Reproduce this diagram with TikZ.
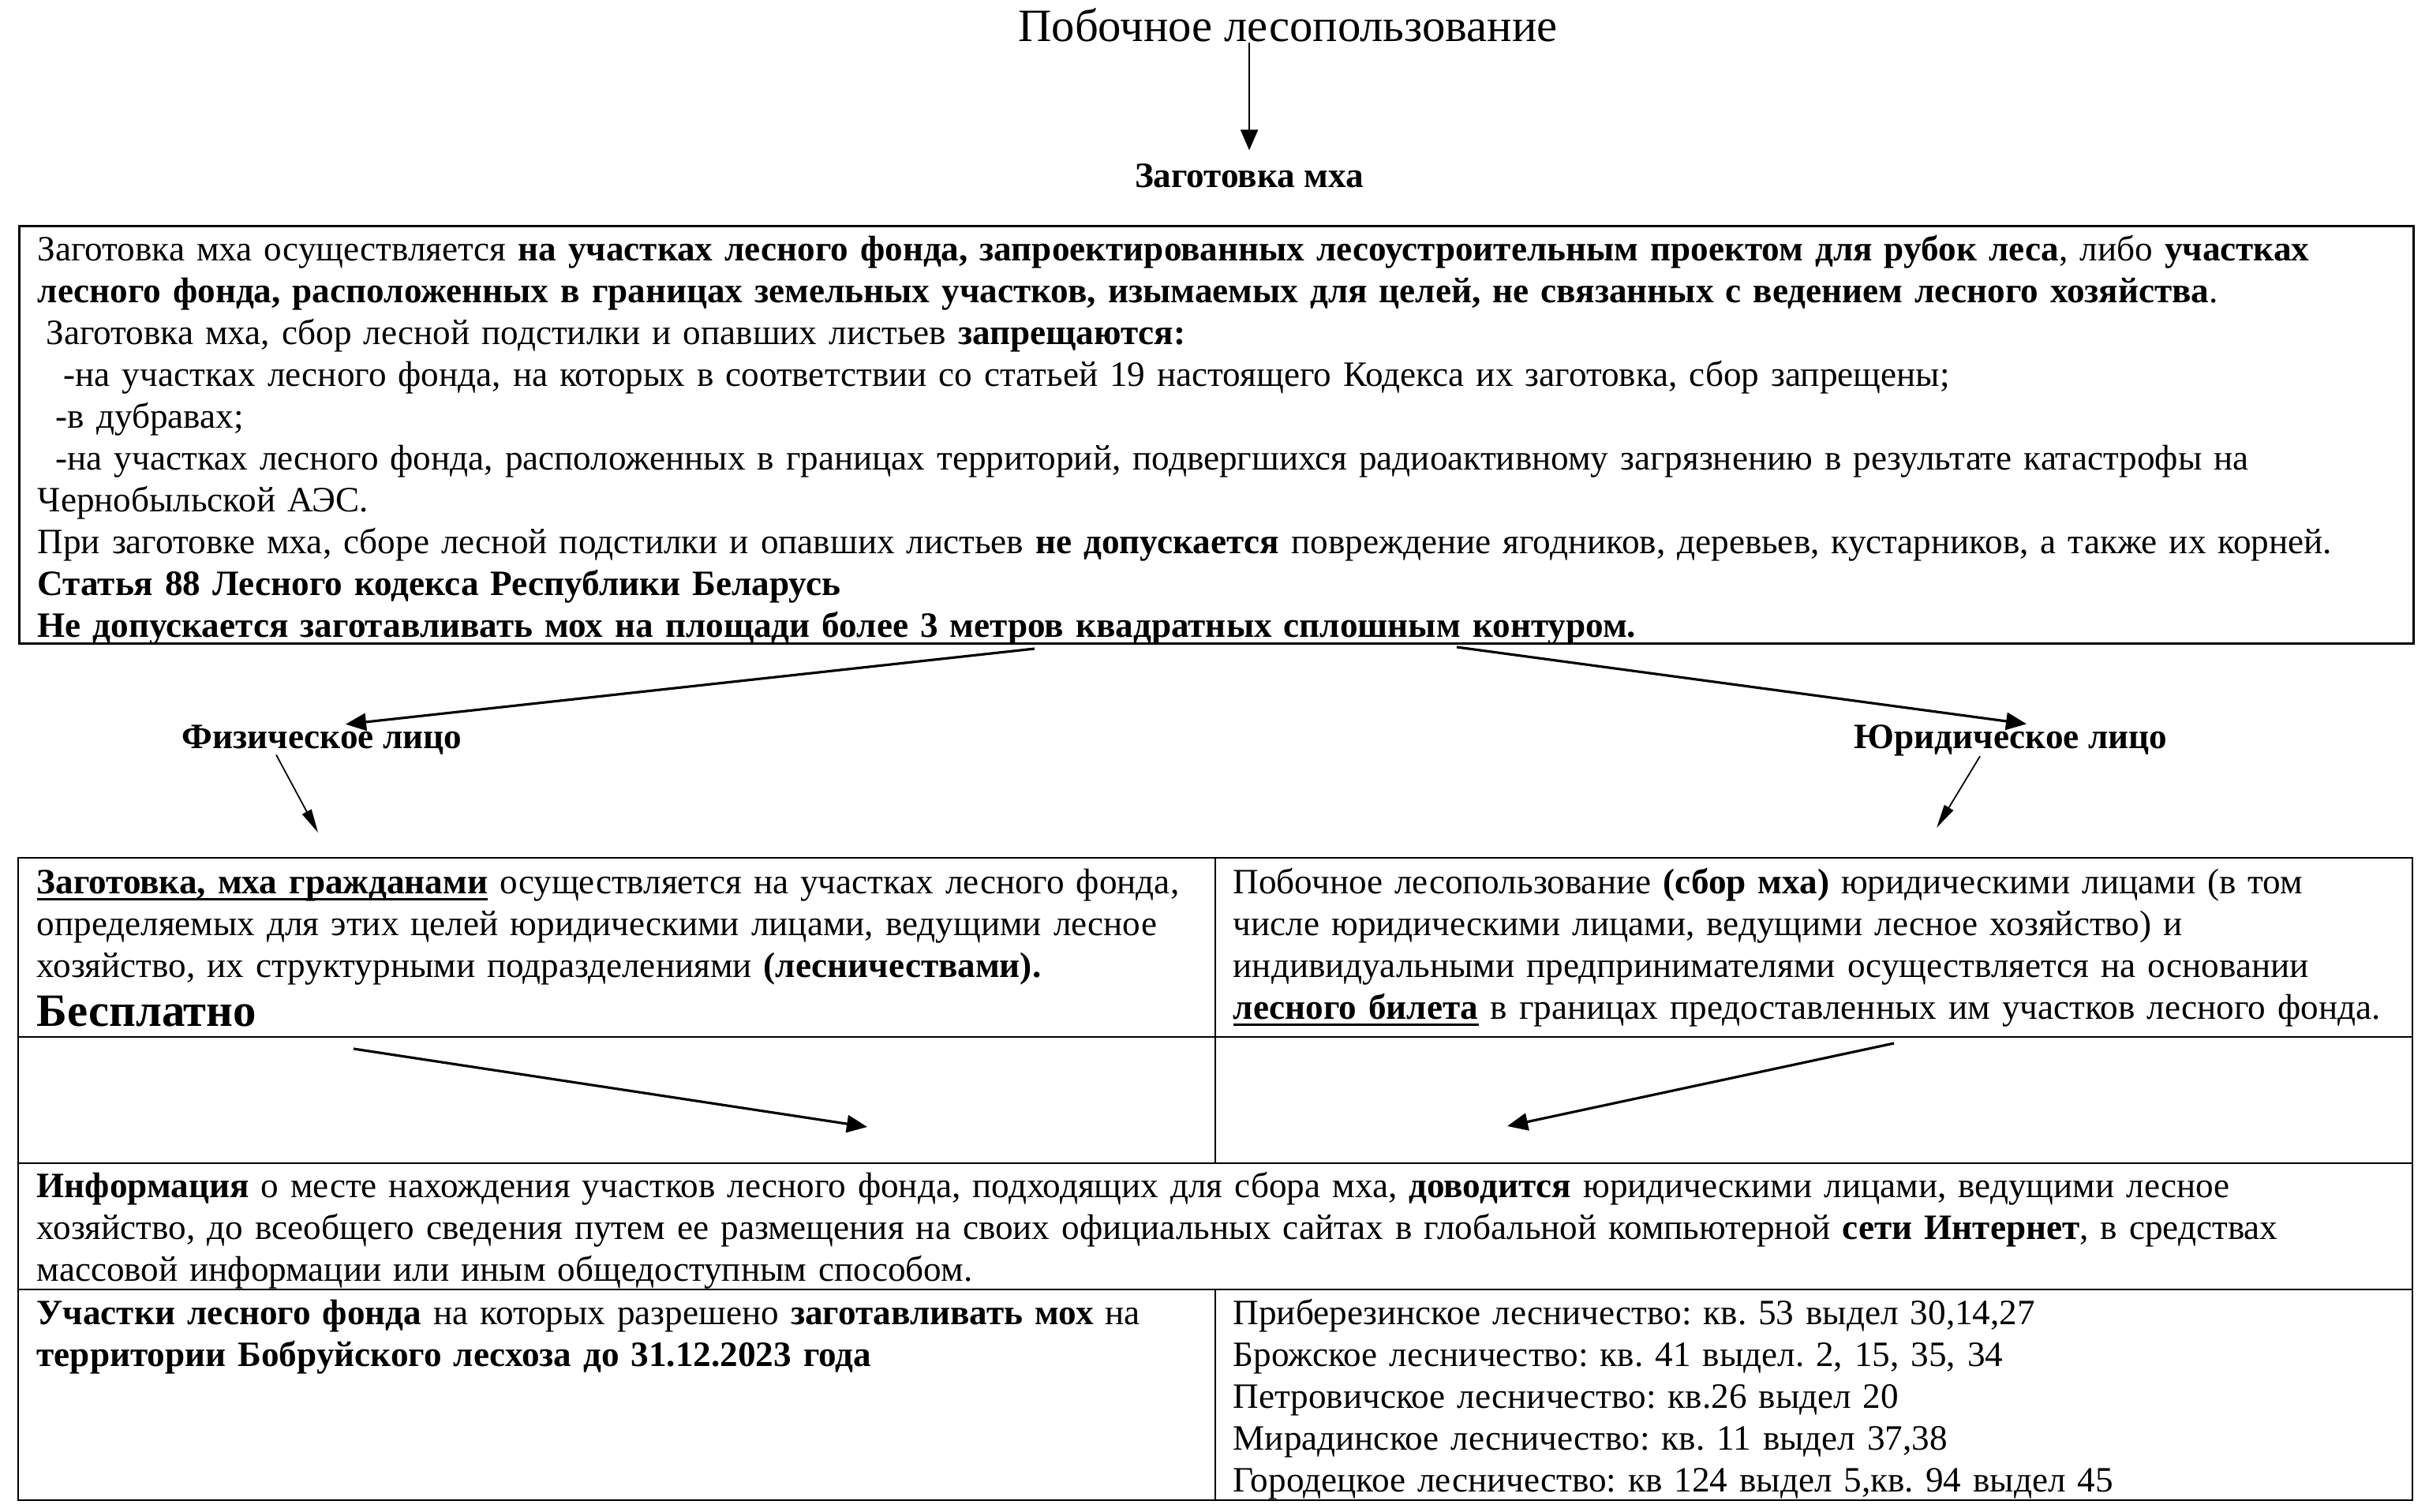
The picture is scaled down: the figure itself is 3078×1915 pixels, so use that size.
\documentclass[tikz,border=0pt]{standalone}
\usepackage{fontspec}
\setmainfont{Liberation Serif}
\usepackage{tikz}
\usetikzlibrary{arrows.meta,calc,positioning}
\frenchspacing
\newcommand{\bodyfont}{\fontsize{12.85pt}{15.08pt}\selectfont}
\newcommand{\headfont}{\fontsize{16.7pt}{19pt}\selectfont}
\newcommand{\freefont}{\fontsize{16.7pt}{20pt}\selectfont}
\newsavebox{\ulbox}
\newcommand{\thickul}[1]{\leavevmode\sbox{\ulbox}{#1}\rlap{\rule[-0.9mm]{\wd\ulbox}{0.35mm}}\usebox{\ulbox}}
\tikzset{
  txt/.style     = {anchor=base west, inner sep=0pt, align=left, text width=30cm, font=\bodyfont},
  lbl/.style     = {inner sep=0pt, anchor=base, font=\bodyfont\bfseries},
  frame/.style   = {draw, line width=0.8pt, inner sep=0pt, anchor=north west},
  rule/.style    = {line width=0.8pt},
  vec/.style     = {-{Triangle[length=2.6mm,width=2.2mm]}, line width=0.9pt},
  thinvec/.style = {-{Triangle[length=3mm,width=1.3mm]}, line width=0.5pt},
}

\begin{document}
\begin{tikzpicture}[x=0.1mm,y=-0.1mm]
  \useasboundingbox (0,0) rectangle (3078,1915);
  \node[inner sep=0pt, anchor=base, font=\headfont] (title) at (1632,53) {Побочное лесопользование};
  \node[lbl] (moss) at (1583,237) {Заготовка мха};
  \draw[vec, line width=0.6pt, shorten >=1.6mm] (title.south -| moss) -- (moss.north);

  \node[frame, minimum width=303.4mm, minimum height=52.9mm] (rules) at (23,285) {};
  \node[txt] (rulestext) at (47,330) {Заготовка мха осуществляется \textbf{на участках лесного фонда, запроектированных лесоустроительным проектом для рубок леса}, либо \textbf{участках}\\
    \textbf{лесного фонда, расположенных в границах земельных участков, изымаемых для целей, не связанных с ведением лесного хозяйства}.\\
    \hspace*{1.1mm}Заготовка мха, сбор лесной подстилки и опавших листьев \textbf{запрещаются:}\\
    \hspace*{3.3mm}-на участках лесного фонда, на которых в соответствии со статьей 19 настоящего Кодекса их заготовка, сбор запрещены;\\
    \hspace*{2.3mm}-в дубравах;\\
    \hspace*{2.3mm}-на участках лесного фонда, расположенных в границах территорий, подвергшихся радиоактивному загрязнению в результате катастрофы на\\
    Чернобыльской АЭС.\\
    При заготовке мха, сборе лесной подстилки и опавших листьев \textbf{не допускается} повреждение ягодников, деревьев, кустарников, а также их корней.\\
    \textbf{Статья 88 Лесного кодекса Республики Беларусь}\\
    \textbf{Не допускается заготавливать мох на площади более 3 метров квадратных сплошным контуром.}};

  \node[lbl] (fiz) at (408,948) {Физическое лицо};
  \node[lbl] (jur) at (2548,948) {Юридическое лицо};
  \coordinate (splitL) at (1311,822);
  \coordinate (splitR) at (1846,820);
  \coordinate (fizcell) at (403,1055);
  \coordinate (jurcell) at (2454,1049);
  \draw[vec] (splitL) -- ([xshift=3mm]fiz.north);
  \draw[vec] (splitR) -- ([xshift=2mm]jur.north);
  \draw[thinvec] ([xshift=-5.8mm]fiz.south) -- (fizcell);
  \draw[thinvec] ([xshift=-3.9mm]jur.south) -- (jurcell);

  \draw[rule] (23,1087) rectangle (3057,1901);
  \foreach \y in {1314,1474,1634}
    \draw[rule] (23,\y) -- (3057,\y);
  \draw[rule] (1540,1087) -- (1540,1474);
  \draw[rule] (1540,1634) -- (1540,1901);

  \node[txt] (citizens) at (46,1132) {\thickul{\textbf{Заготовка, мха гражданами}} осуществляется на участках лесного фонда,\\
    определяемых для этих целей юридическими лицами, ведущими лесное\\
    хозяйство, их структурными подразделениями \textbf{(лесничествами).}};
  \node[inner sep=0pt, anchor=base west, font=\freefont\bfseries] (free) at (46,1300) {Бесплатно};
  \node[txt] (ticket) at (1562,1132) {Побочное лесопользование \textbf{(сбор мха)} юридическими лицами (в том\\
    числе юридическими лицами, ведущими лесное хозяйство) и\\
    индивидуальными предпринимателями осуществляется на основании\\
    \thickul{\textbf{лесного билета}} в границах предоставленных им участков лесного фонда.};

  \coordinate (citL) at (448,1329);
  \coordinate (infoL) at (1099,1428);
  \coordinate (tickR) at (2400,1322);
  \coordinate (infoR) at (1910,1427);
  \draw[vec] (citL) -- (infoL);
  \draw[vec] (tickR) -- (infoR);

  \node[txt] (info) at (46,1517) {\textbf{Информация} о месте нахождения участков лесного фонда, подходящих для сбора мха, \textbf{доводится} юридическими лицами, ведущими лесное\\
    хозяйство, до всеобщего сведения путем ее размещения на своих официальных сайтах в глобальной компьютерной \textbf{сети Интернет}, в средствах\\
    массовой информации или иным общедоступным способом.};
  \node[txt] (plots) at (46,1678) {\textbf{Участки лесного фонда} на которых разрешено \textbf{заготавливать мох} на\\
    \textbf{территории Бобруйского лесхоза до 31.12.2023 года}};
  \node[txt] (forestries) at (1562,1678) {Приберезинское лесничество: кв. 53 выдел 30,14,27\\
    Брожское лесничество: кв. 41 выдел. 2, 15, 35, 34\\
    Петровичское лесничество: кв.26 выдел 20\\
    Мирадинское лесничество: кв. 11 выдел 37,38\\
    Городецкое лесничество: кв 124 выдел 5,кв. 94 выдел 45};
\end{tikzpicture}
\end{document}
